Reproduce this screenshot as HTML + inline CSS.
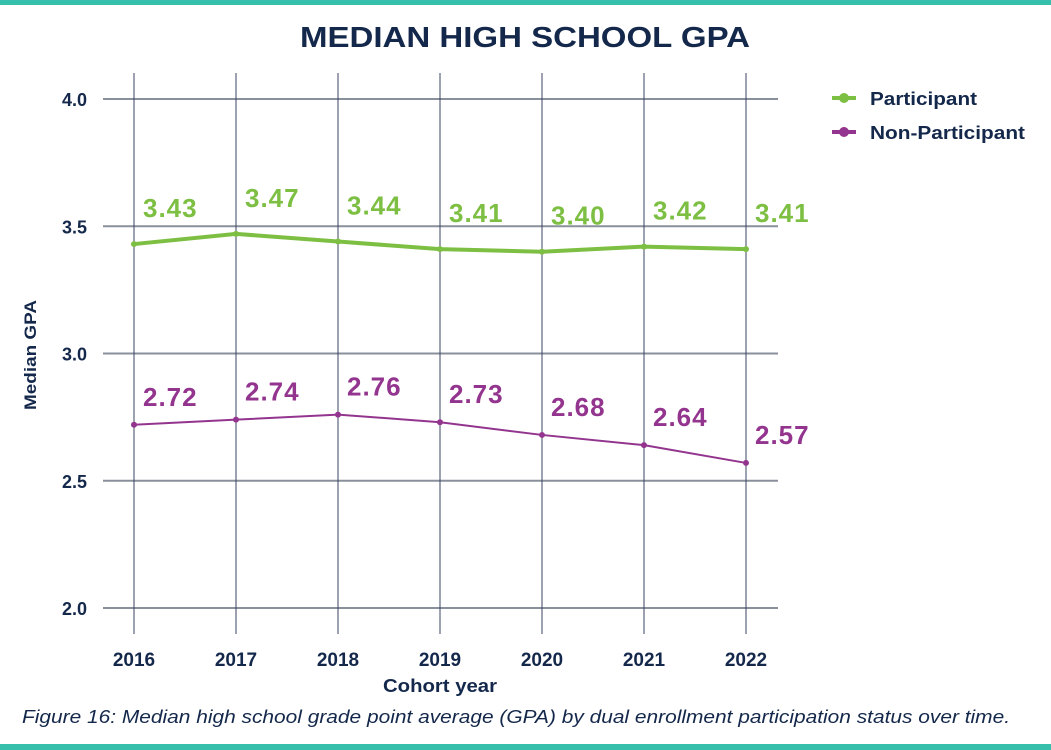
<!DOCTYPE html>
<html><head><meta charset="utf-8"><style>
body{margin:0;background:#fff;font-family:"Liberation Sans",sans-serif;}
svg{display:block}
</style></head><body>
<svg width="1051" height="750" viewBox="0 0 1051 750" xmlns="http://www.w3.org/2000/svg">
<rect x="0" y="0" width="1051" height="5" fill="#36bfab"/>
<rect x="0" y="744" width="1051" height="6" fill="#36bfab"/>
<text x="300" y="47" textLength="450" lengthAdjust="spacingAndGlyphs" font-size="29" font-weight="bold" fill="#14284b">MEDIAN HIGH SCHOOL GPA</text>
<g id="grid"></g>
<g id="series"></g>
<text transform="translate(36,355) rotate(-90)" x="-55" y="0" textLength="110" lengthAdjust="spacingAndGlyphs" font-size="17" font-weight="bold" fill="#14284b">Median GPA</text>
<text x="383" y="692" textLength="114" lengthAdjust="spacingAndGlyphs" font-size="18" font-weight="bold" fill="#14284b">Cohort year</text>
<text x="22" y="723" textLength="988" lengthAdjust="spacingAndGlyphs" font-size="18" font-style="italic" fill="#14284b">Figure 16: Median high school grade point average (GPA) by dual enrollment participation status over time.</text>
<g>
<line x1="832" y1="98" x2="856" y2="98" stroke="#7dbf42" stroke-width="4"/>
<circle cx="844" cy="98" r="5" fill="#7dbf42"/>
<text x="870" y="105" textLength="107" lengthAdjust="spacingAndGlyphs" font-size="18" font-weight="bold" fill="#14284b">Participant</text>
<line x1="832" y1="132" x2="856" y2="132" stroke="#93358e" stroke-width="4"/>
<circle cx="844" cy="132" r="5" fill="#93358e"/>
<text x="870" y="139" textLength="155" lengthAdjust="spacingAndGlyphs" font-size="18" font-weight="bold" fill="#14284b">Non-Participant</text>
</g>
</svg>
<script>
const years=["2016","2017","2018","2019","2020","2021","2022"];
const participant=[3.43,3.47,3.44,3.41,3.40,3.42,3.41];
const nonParticipant=[2.72,2.74,2.76,2.73,2.68,2.64,2.57];
const yTicks=[2.0,2.5,3.0,3.5,4.0];
const NS="http://www.w3.org/2000/svg";
const xS=i=>134+i*102;
const yS=v=>608-(v-2.0)*254.5;
function mk(tag,attrs,parent){const e=document.createElementNS(NS,tag);for(const k in attrs)e.setAttribute(k,attrs[k]);parent.appendChild(e);return e;}
const grid=document.getElementById('grid');
yTicks.forEach(t=>{
 const l=mk('line',{x1:103,x2:778,y1:yS(t),y2:yS(t),stroke:'#8a8f9c','stroke-width':2},grid);
 
 
 const tx=mk('text',{x:87,y:yS(t)+7,'text-anchor':'end','font-size':18,'font-weight':'bold',fill:'#14284b'},grid);
 tx.textContent=t.toFixed(1);
 
 
});
years.forEach((y,i)=>{
 const l=mk('line',{x1:xS(i),x2:xS(i),y1:73,y2:634,stroke:'#3a4660','stroke-width':1},grid);
 
 
 const tx=mk('text',{x:xS(i),y:666,'text-anchor':'middle','font-size':19,'font-weight':'bold',fill:'#14284b'},grid);
 tx.textContent=y;
 
 
});
const ser=document.getElementById('series');
function draw(vals,color,w,name,off){
 const p=mk('polyline',{points:vals.map((v,i)=>xS(i)+','+yS(v)).join(' '),fill:'none',stroke:color,'stroke-width':w},ser);
 
 
 vals.forEach((v,i)=>{
  const c=mk('circle',{cx:xS(i),cy:yS(v),r:3,fill:color},ser);
  
  
  const t=mk('text',{x:xS(i)+9,y:yS(v)-off,'font-size':26,'font-weight':'bold','letter-spacing':1,fill:color},ser);
  t.textContent=v.toFixed(2);
  
  
 });
}
draw(participant,'#7dbf42',4,'participant',27);
draw(nonParticipant,'#93358e',2,'nonparticipant',19);
</script>
</body></html>
